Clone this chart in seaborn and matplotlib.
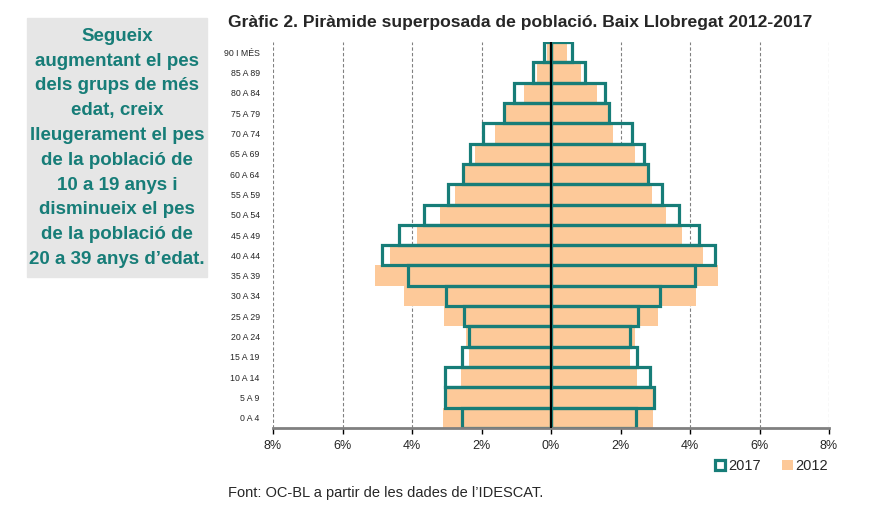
import matplotlib
matplotlib.use('Agg')
import matplotlib.pyplot as plt
import seaborn as sns
from matplotlib.patches import Patch, Rectangle

# grups d'edat, de dalt a baix
grups = ['90 I MÉS', '85 A 89', '80 A 84', '75 A 79', '70 A 74', '65 A 69',
         '60 A 64', '55 A 59', '50 A 54', '45 A 49', '40 A 44', '35 A 39',
         '30 A 34', '25 A 29', '20 A 24', '15 A 19', '10 A 14', '5 A 9', '0 A 4']

# % sobre el total (costat esquerre / costat dret)
esq_2017 = [0.21, 0.52, 1.06, 1.36, 1.96, 2.32, 2.53, 2.97, 3.65, 4.38,
            4.86, 4.11, 3.01, 2.51, 2.37, 2.56, 3.04, 3.04, 2.56]
esq_2012 = [0.13, 0.40, 0.79, 1.31, 1.60, 2.18, 2.49, 2.75, 3.20, 3.86,
            4.62, 5.07, 4.23, 3.08, 2.46, 2.37, 2.58, 3.02, 3.11]
dre_2017 = [0.59, 0.98, 1.54, 1.66, 2.32, 2.67, 2.78, 3.19, 3.67, 4.27,
            4.73, 4.15, 3.15, 2.49, 2.26, 2.47, 2.84, 2.95, 2.44]
dre_2012 = [0.46, 0.85, 1.31, 1.69, 1.78, 2.43, 2.76, 2.91, 3.32, 3.77,
            4.37, 4.80, 4.18, 3.08, 2.43, 2.26, 2.48, 2.92, 2.94]

ticks = [-8, -6, -4, -2, 0, 2, 4, 6, 8]

TEAL = '#177d78'
PEACH = '#fdc999'

sns.set_style('white')
plt.rcParams['font.family'] = ['Liberation Sans', 'DejaVu Sans']

fig = plt.figure(figsize=(8.69, 5.08), dpi=100)
ax = fig.add_axes([0.3142, 0.1575, 0.6398, 0.7598])

# 2012: farciment
sns.barplot(x=[-v for v in esq_2012], y=grups, orient='h', color=PEACH,
            width=1.0, errorbar=None, linewidth=0, saturation=1, ax=ax)
sns.barplot(x=dre_2012, y=grups, orient='h', color=PEACH,
            width=1.0, errorbar=None, linewidth=0, saturation=1, ax=ax)
# 2017: només contorn
sns.barplot(x=[-v for v in esq_2017], y=grups, orient='h', color=TEAL,
            fill=False, width=1.0, errorbar=None, linewidth=2.3, saturation=1, ax=ax)
sns.barplot(x=dre_2017, y=grups, orient='h', color=TEAL,
            fill=False, width=1.0, errorbar=None, linewidth=2.3, saturation=1, ax=ax)

ax.axvline(0, color='black', lw=1.5, zorder=5)
for t in ticks:
    if t != 0:
        ax.axvline(t, color='#808080', lw=0.8, ls=(0, (3, 2)), zorder=0)

ax.set_xlim(-8, 8)
ax.set_ylim(len(grups) - 0.5, -0.5)
ax.set_xticks(ticks)
ax.set_xticklabels([f'{abs(t)}%' for t in ticks], fontsize=9)
ax.tick_params(axis='x', bottom=True, length=4, width=1, color='black', pad=5)
ax.tick_params(axis='y', left=False, labelsize=6.3, pad=6)
ax.set_xlabel('')
ax.set_ylabel('')
for s in ['top', 'right', 'left']:
    ax.spines[s].set_visible(False)
ax.spines['bottom'].set_color('#808080')
ax.spines['bottom'].set_linewidth(2)

fig.text(0.262, 0.956, 'Gràfic 2. Piràmide superposada de població. Baix Llobregat 2012-2017',
         fontsize=12.6, fontweight='bold', ha='left', va='center')

fig.patches.append(Rectangle((27 / 869, 1 - 277 / 508), 180 / 869, 259 / 508,
                             transform=fig.transFigure, color='#e6e6e6', zorder=0))
fig.text(117 / 869, 1 - 148 / 508,
         'Segueix\naugmentant el pes\ndels grups de més\nedat, creix\nlleugerament el pes\n'
         'de la població de\n10 a 19 anys i\ndisminueix el pes\nde la població de\n20 a 39 anys d\u2019edat.',
         fontsize=13.5, fontweight='bold', color=TEAL, ha='center', va='center',
         linespacing=1.6)

handles = [Patch(facecolor='white', edgecolor=TEAL, lw=2.3, label='2017'),
           Patch(facecolor=PEACH, edgecolor='none', label='2012')]
fig.legend(handles=handles, loc='center right', bbox_to_anchor=(0.968, 0.082), ncol=2,
           frameon=False, fontsize=10.5, handlelength=0.7, handleheight=0.7,
           handletextpad=0.2, columnspacing=1.5)

fig.text(0.262, 0.029, 'Font: OC-BL a partir de les dades de l\u2019IDESCAT.', fontsize=10.5,
         ha='left', va='center')

fig.savefig('out.png', dpi=100)
